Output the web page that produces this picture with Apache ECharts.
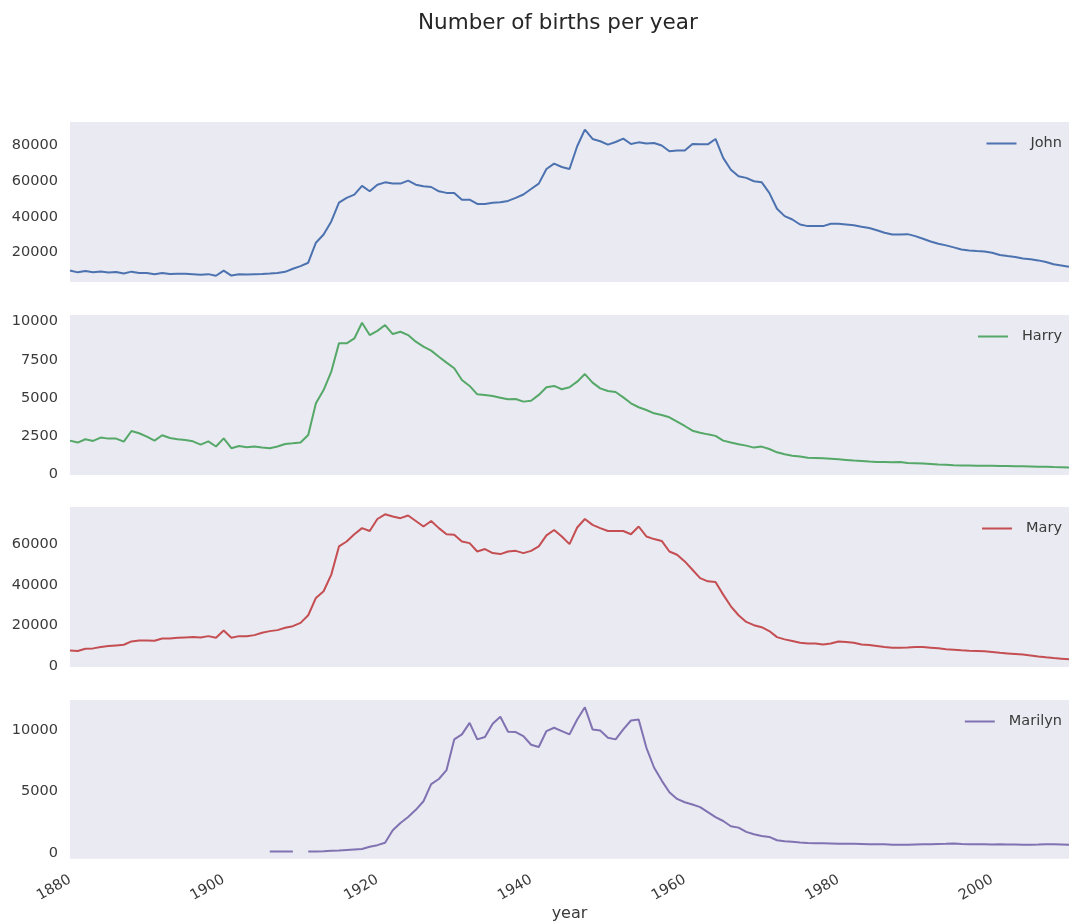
<!DOCTYPE html>
<html>
<head>
<meta charset="utf-8">
<script src="https://cdn.jsdelivr.net/npm/echarts@6/dist/echarts.min.js"></script>
<style>html,body{margin:0;padding:0;background:#fff;}#c{width:1069px;height:923px;}</style>
</head>
<body>
<div id="c"></div>
<script>
const years = [];
for (let y = 1880; y <= 2010; y++) years.push(y);

const john = [
10000, 9000, 9700, 9100, 9500, 8900, 9200, 8400, 9400, 8700,
8600, 8000, 8700, 8100, 8200, 8200, 8000, 7600, 8000, 7100,
10000, 7200, 7900, 7800, 8000, 8100, 8300, 8600, 9300, 11000,
12500, 14400, 25600, 30200, 37500, 48000, 50700, 52500, 57400, 54400,
58100, 59400, 58700, 58700, 60400, 58100, 57200, 56800, 54400, 53500,
53500, 49700, 49700, 47300, 47300, 48000, 48200, 49000, 50700, 52600,
55700, 58700, 66900, 69900, 68000, 66900, 79600, 88900, 83700, 82400,
80500, 82000, 83900, 80900, 81800, 81100, 81400, 80000, 76800, 77200,
77200, 80900, 80700, 80700, 83700, 73100, 66500, 62800, 61900, 60000,
59500, 53500, 44600, 40500, 38600, 35800, 34900, 34900, 34900, 36200,
36200, 35800, 35400, 34500, 33800, 32600, 31200, 30200, 30200, 30400,
29300, 27800, 26300, 25000, 24100, 23000, 21800, 21300, 20900, 20700,
20000, 18700, 18100, 17600, 16800, 16300, 15700, 14800, 13500, 12900,
12100];

const harry = [
2190, 2060, 2280, 2170, 2390, 2320, 2320, 2120, 2820, 2670,
2450, 2190, 2540, 2360, 2280, 2230, 2140, 1930, 2140, 1800,
2340, 1690, 1840, 1750, 1800, 1730, 1690, 1800, 1970, 2010,
2060, 2560, 4640, 5510, 6720, 8580, 8580, 8900, 9930, 9120,
9400, 9780, 9190, 9340, 9120, 8690, 8360, 8100, 7700, 7310,
6940, 6170, 5780, 5230, 5190, 5120, 5010, 4900, 4920, 4750,
4810, 5190, 5690, 5780, 5560, 5690, 6060, 6560, 6000, 5620,
5450, 5380, 5030, 4640, 4380, 4200, 3980, 3870, 3720, 3435,
3150, 2840, 2710, 2600, 2500, 2190, 2060, 1950, 1860, 1730,
1795, 1640, 1420, 1290, 1200, 1140, 1070, 1050, 1030, 1000,
960, 920, 875, 850, 810, 790, 790, 770, 790, 720,
700, 680, 650, 620, 600, 570, 560, 550, 540, 530,
530, 520, 520, 510, 500, 490, 480, 470, 450, 440,
420];

const mary = [
7680, 7360, 8500, 8670, 9320, 9810, 10140, 10460, 12100, 12590,
12590, 12430, 13570, 13570, 13900, 14060, 14220, 14060, 14700, 13900,
17500, 13900, 14700, 14700, 15200, 16350, 17170, 17660, 18800, 19600,
21250, 25000, 33500, 36800, 45000, 58900, 61300, 64900, 67900, 66500,
72400, 74700, 73600, 72800, 74100, 71400, 68700, 71400, 67900, 64900,
64600, 61300, 60500, 56400, 57600, 55600, 55100, 56400, 56700, 55600,
56700, 58900, 64300, 67000, 63800, 60000, 68200, 72400, 69500, 67900,
66500, 66500, 66500, 64900, 68700, 63800, 62500, 61600, 56400, 54800,
51500, 47400, 43300, 41700, 41400, 35150, 29400, 25000, 21700, 20100,
19100, 17200, 14200, 13100, 12300, 11400, 11100, 11100, 10600, 11100,
12100, 11800, 11400, 10600, 10300, 9800, 9300, 9000, 9000, 9100,
9300, 9300, 9000, 8700, 8300, 8000, 7700, 7500, 7400, 7200,
6900, 6500, 6200, 5900, 5600, 5200, 4700, 4250, 3900, 3600,
3300];

const marilyn = [
null, null, null, null, null, null, null, null, null, null,
null, null, null, null, null, null, null, null, null, null,
null, null, null, null, null, null, 100, 100, 100, 100,
null, 100, 110, 130, 160, 190, 230, 270, 300, 485,
620, 810, 1830, 2430, 2910, 3500, 4200, 5600, 6010, 6740,
9240, 9650, 10590, 9240, 9430, 10510, 11080, 9860, 9840, 9500,
8800, 8620, 9920, 10190, 9920, 9650, 10860, 11860, 10050, 9970,
9380, 9240, 10050, 10780, 10860, 8570, 6950, 5880, 4930, 4390,
4120, 3930, 3720, 3310, 2910, 2590, 2160, 2050, 1700, 1510,
1370, 1290, 1020, 940, 890, 840, 800, 780, 770, 760,
740, 740, 740, 720, 700, 690, 690, 660, 650, 660,
680, 700, 690, 720, 730, 760, 720, 700, 690, 690,
680, 690, 670, 670, 660, 660, 670, 690, 700, 680,
660];

const names = ['John', 'Harry', 'Mary', 'Marilyn'];
const seriesValues = [john, harry, mary, marilyn];
const colors = ['#4C72B0', '#55A868', '#C44E52', '#8172B2'];
const yTickLabels = [
  [20000, 40000, 60000, 80000],
  [0, 2500, 5000, 7500, 10000],
  [0, 20000, 40000, 60000],
  [0, 5000, 10000]
];
const yMins = [3600, -70, -500, -480];
const yMaxs = [93200, 10440, 78300, 12450];
const xTickLabels = [1880, 1900, 1920, 1940, 1960, 1980, 2000];

const tops = [122, 315, 507, 700];
const FONT = "'DejaVu Sans', sans-serif";
const TXT = '#3a3a3a';

const grid = [], xAxis = [], yAxis = [], series = [], legend = [];
for (let i = 0; i < 4; i++) {
  grid.push({left: 70, width: 1005, top: tops[i], height: 160, show: true,
    backgroundColor: '#EAEAF2', borderWidth: 0, containLabel: false});
  const last = i === 3;
  xAxis.push({
    type: 'value', gridIndex: i, min: 1880, max: 2010,
    axisLine: {show: false}, axisTick: {show: false}, splitLine: {show: false},
    axisLabel: {show: last, rotate: 30, customValues: xTickLabels, fontSize: 14.5,
      color: TXT, fontFamily: FONT, margin: 20, formatter: v => String(v)},
    name: last ? 'year' : '', nameLocation: 'middle', nameGap: 45,
    nameTextStyle: {fontSize: 16, color: TXT, fontFamily: FONT}
  });
  yAxis.push({
    type: 'value', gridIndex: i, min: yMins[i], max: yMaxs[i],
    axisLine: {show: false}, axisTick: {show: false}, splitLine: {show: false},
    axisLabel: {customValues: yTickLabels[i], fontSize: 14.5, color: TXT,
      fontFamily: FONT, margin: 12, formatter: v => String(v)}
  });
  series.push({
    name: names[i], type: 'line', xAxisIndex: i, yAxisIndex: i,
    data: years.map((y, k) => [y, seriesValues[i][k]]),
    symbol: 'none', showSymbol: false, connectNulls: false,
    lineStyle: {width: 2, color: colors[i]}, itemStyle: {color: colors[i]},
    animation: false
  });
  legend.push({
    data: [names[i]], right: 2, top: tops[i] + 9, icon: 'rect',
    itemWidth: 30, itemHeight: 2, selectedMode: false,
    textStyle: {fontSize: 14.5, color: TXT, fontFamily: FONT, padding: [0, 0, 0, 9]}
  });
}

const chart = echarts.init(document.getElementById('c'), null, {renderer: 'canvas'});
chart.setOption({
  backgroundColor: '#ffffff',
  animation: false,
  textStyle: {fontFamily: FONT},
  title: {text: 'Number of births per year', left: 418, top: 12, padding: 0,
    textStyle: {fontSize: 21.5, fontWeight: 'normal', color: '#262626', fontFamily: FONT}},
  legend: legend,
  grid: grid,
  xAxis: xAxis,
  yAxis: yAxis,
  series: series
});
</script>
</body>
</html>
